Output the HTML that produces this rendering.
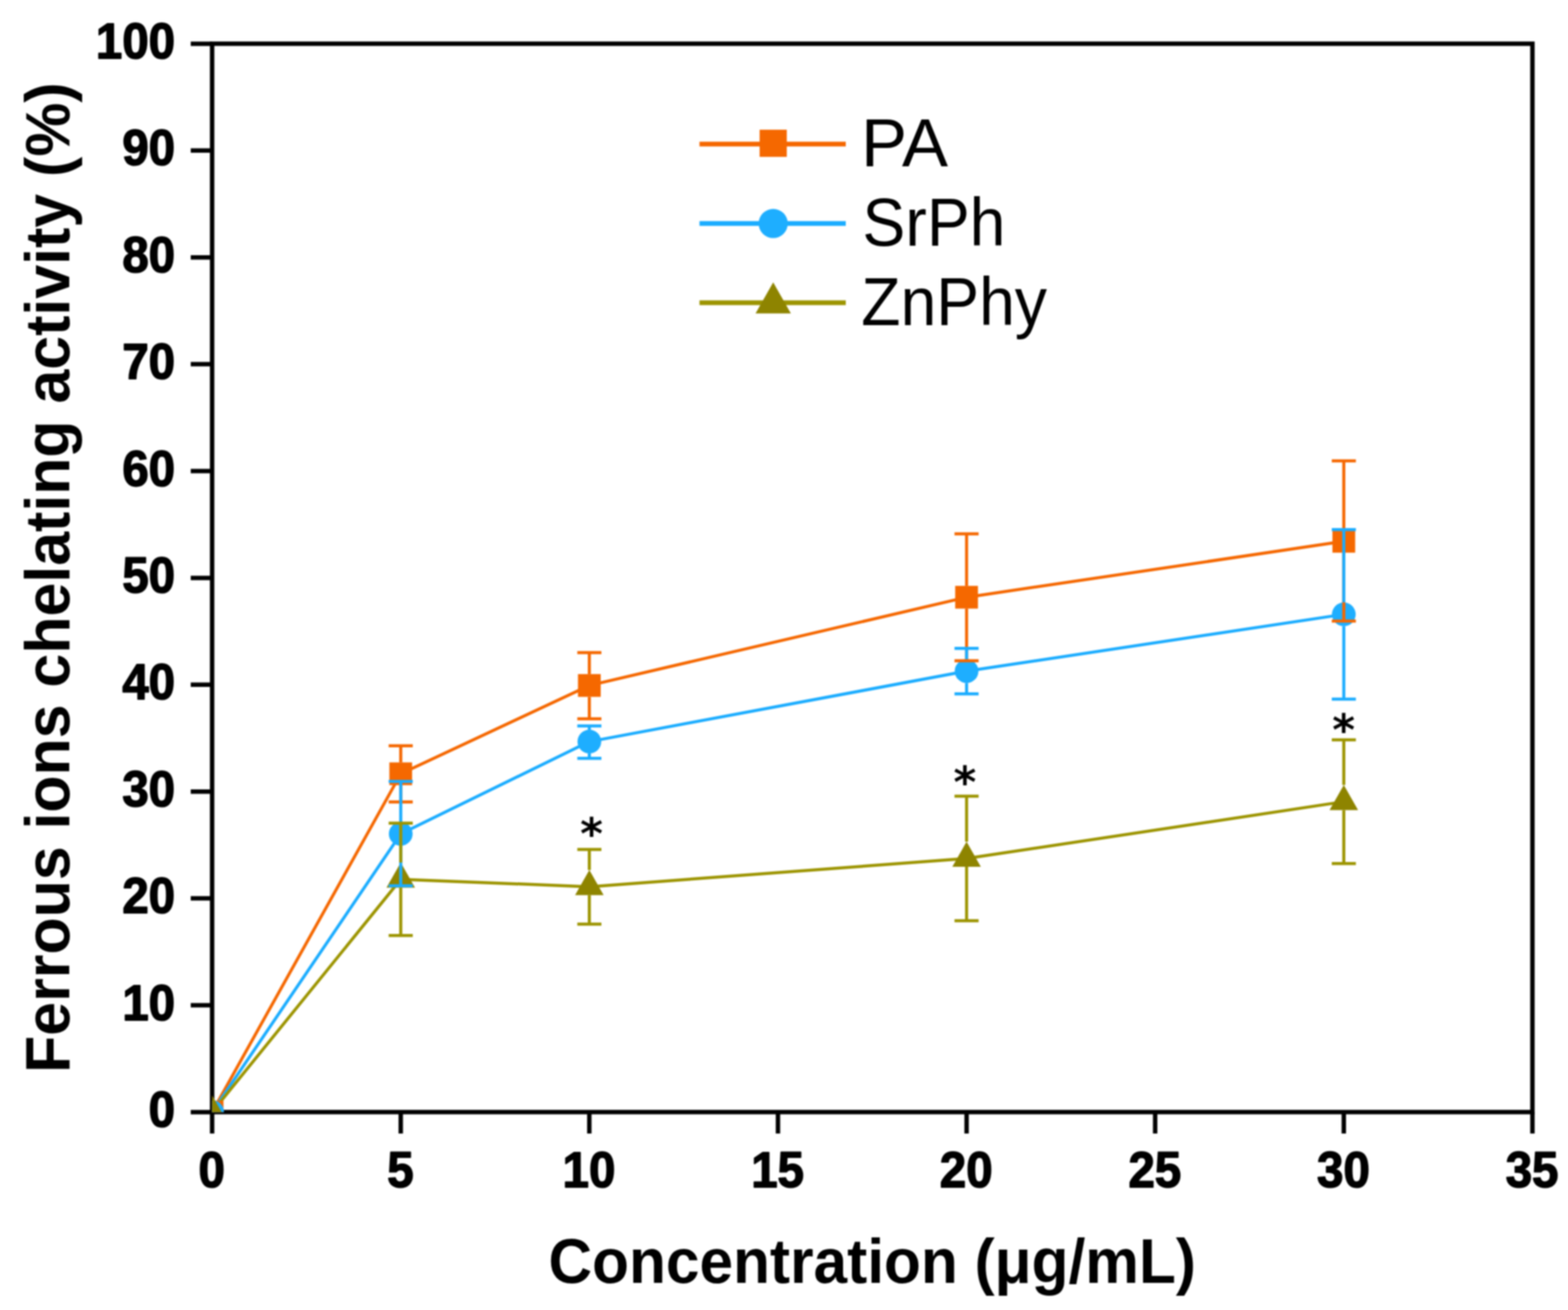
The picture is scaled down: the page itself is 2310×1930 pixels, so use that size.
<!DOCTYPE html><html><head><meta charset="utf-8"><title>Ferrous ions chelating activity</title>
<style>html,body{margin:0;padding:0;background:#fff;width:2310px;height:1930px;overflow:hidden}svg{display:block;filter:blur(0.9px)}text{font-family:"Liberation Sans",Arial,Helvetica,sans-serif}</style></head><body>
<svg width="2310" height="1930" viewBox="0 0 2310 1930">
<rect x="0" y="0" width="2310" height="1930" fill="#fff"/>
<defs><clipPath id="pa"><rect x="312.5" y="64.4" width="1945.1" height="1574.0"/></clipPath></defs>
<g stroke="#000" stroke-width="6.5" fill="none" stroke-linecap="butt">
<rect x="312.5" y="64.4" width="1945.1" height="1574.0" stroke-linejoin="miter"/>
<path d="M281.0 1638.4H312.5M281.0 1481.0H312.5M281.0 1323.6H312.5M281.0 1166.2H312.5M281.0 1008.8H312.5M281.0 851.4H312.5M281.0 694.0H312.5M281.0 536.6H312.5M281.0 379.2H312.5M281.0 221.8H312.5M281.0 64.4H312.5M312.5 1638.4V1669.9M590.4 1638.4V1669.9M868.2 1638.4V1669.9M1146.1 1638.4V1669.9M1424.0 1638.4V1669.9M1701.8 1638.4V1669.9M1979.7 1638.4V1669.9M2257.6 1638.4V1669.9"/>
</g>
<g clip-path="url(#pa)">
<polyline points="312.5,1638.4 590.4,1140.0 868.2,1009.9 1424.0,879.9 1979.7,797.5" fill="none" stroke="#F56700" stroke-width="4.5" stroke-linejoin="round"/>
<polyline points="312.5,1638.4 590.4,1228.5 868.2,1092.6 1424.0,988.8 1979.7,905.1" fill="none" stroke="#1AACFF" stroke-width="4.5" stroke-linejoin="round"/>
<polyline points="312.5,1638.4 590.4,1295.5 868.2,1306.4 1424.0,1264.8 1979.7,1181.1" fill="none" stroke="#9C9400" stroke-width="4.5" stroke-linejoin="round"/>
<rect x="295.75" y="1621.65" width="33.5" height="33.5" fill="#F56800"/>
<circle cx="312.50" cy="1638.40" r="17.5" fill="#1EAEFF"/>
<polygon points="312.50,1613.73 333.50,1650.73 291.50,1650.73" fill="#8E8400"/>
<rect x="573.62" y="1123.25" width="33.5" height="33.5" fill="#F56800"/>
<rect x="851.49" y="993.15" width="33.5" height="33.5" fill="#F56800"/>
<rect x="1407.23" y="863.15" width="33.5" height="33.5" fill="#F56800"/>
<rect x="1962.97" y="780.75" width="33.5" height="33.5" fill="#F56800"/>
<circle cx="590.37" cy="1228.50" r="17.5" fill="#1EAEFF"/>
<circle cx="868.24" cy="1092.60" r="17.5" fill="#1EAEFF"/>
<circle cx="1423.98" cy="988.75" r="17.5" fill="#1EAEFF"/>
<circle cx="1979.72" cy="905.10" r="17.5" fill="#1EAEFF"/>
<polygon points="590.37,1270.83 611.37,1307.83 569.37,1307.83" fill="#8E8400"/>
<polygon points="868.24,1281.73 889.24,1318.73 847.24,1318.73" fill="#8E8400"/>
<polygon points="1423.98,1240.08 1444.98,1277.08 1402.98,1277.08" fill="#8E8400"/>
<polygon points="1979.72,1156.43 2000.72,1193.43 1958.72,1193.43" fill="#8E8400"/>
<g stroke="#F56700" stroke-width="4.5" fill="none">
<path d="M590.4 1098.7V1123.2M590.4 1156.8V1181.5M572.6 1098.7H608.1M572.6 1181.5H608.1"/>
<path d="M868.2 961.4V993.1M868.2 1026.7V1058.9M850.5 961.4H886.0M850.5 1058.9H886.0"/>
<path d="M1424.0 786.5V863.1M1424.0 896.6V973.5M1406.2 786.5H1441.7M1406.2 973.5H1441.7"/>
<path d="M1979.7 679.0V780.8M1979.7 814.2V915.0M1962.0 679.0H1997.5M1962.0 915.0H1997.5"/>
</g>
<g stroke="#1AACFF" stroke-width="4.5" fill="none">
<path d="M590.4 1151.3V1211.0M590.4 1246.0V1305.0M572.6 1151.3H608.1M572.6 1305.0H608.1"/>
<path d="M868.2 1069.5V1075.1M868.2 1110.1V1117.3M850.5 1069.5H886.0M850.5 1117.3H886.0"/>
<path d="M1424.0 955.2V971.2M1424.0 1006.2V1022.3M1406.2 955.2H1441.7M1406.2 1022.3H1441.7"/>
<path d="M1979.7 780.3V887.6M1979.7 922.6V1029.9M1962.0 780.3H1997.5M1962.0 1029.9H1997.5"/>
</g>
<g stroke="#9C9400" stroke-width="4.5" fill="none">
<path d="M590.4 1212.8V1270.8M590.4 1307.8V1378.2M572.6 1212.8H608.1M572.6 1378.2H608.1"/>
<path d="M868.2 1251.4V1281.7M868.2 1318.7V1361.4M850.5 1251.4H886.0M850.5 1361.4H886.0"/>
<path d="M1424.0 1173.0V1240.1M1424.0 1277.1V1356.5M1406.2 1173.0H1441.7M1406.2 1356.5H1441.7"/>
<path d="M1979.7 1090.0V1156.4M1979.7 1193.4V1272.2M1962.0 1090.0H1997.5M1962.0 1272.2H1997.5"/>
</g>
</g>
<g font-weight="bold" font-size="74" fill="#000" stroke="#000" stroke-width="2" stroke-linejoin="round">
<text transform="translate(258 1660.0) scale(0.945 1)" text-anchor="end">0</text>
<text transform="translate(258 1502.6) scale(0.945 1)" text-anchor="end">10</text>
<text transform="translate(258 1345.2) scale(0.945 1)" text-anchor="end">20</text>
<text transform="translate(258 1187.8) scale(0.945 1)" text-anchor="end">30</text>
<text transform="translate(258 1030.4) scale(0.945 1)" text-anchor="end">40</text>
<text transform="translate(258 873.0) scale(0.945 1)" text-anchor="end">50</text>
<text transform="translate(258 715.6) scale(0.945 1)" text-anchor="end">60</text>
<text transform="translate(258 558.2) scale(0.945 1)" text-anchor="end">70</text>
<text transform="translate(258 400.8) scale(0.945 1)" text-anchor="end">80</text>
<text transform="translate(258 243.4) scale(0.945 1)" text-anchor="end">90</text>
<text transform="translate(258 86.0) scale(0.945 1)" text-anchor="end">100</text>
<text transform="translate(312.0 1749.3) scale(0.945 1)" text-anchor="middle">0</text>
<text transform="translate(589.9 1749.3) scale(0.945 1)" text-anchor="middle">5</text>
<text transform="translate(867.7 1749.3) scale(0.945 1)" text-anchor="middle">10</text>
<text transform="translate(1145.6 1749.3) scale(0.945 1)" text-anchor="middle">15</text>
<text transform="translate(1423.5 1749.3) scale(0.945 1)" text-anchor="middle">20</text>
<text transform="translate(1701.3 1749.3) scale(0.945 1)" text-anchor="middle">25</text>
<text transform="translate(1979.2 1749.3) scale(0.945 1)" text-anchor="middle">30</text>
<text transform="translate(2257.1 1749.3) scale(0.945 1)" text-anchor="middle">35</text>
</g>
<text font-weight="bold" font-size="93" text-anchor="middle" transform="translate(101.7 851) rotate(-90) scale(0.964 1)">Ferrous ions chelating activity (%)</text>
<text font-weight="bold" font-size="93" text-anchor="middle" transform="translate(1285 1889.5) scale(0.9566 1)">Concentration (μg/mL)</text>
<text font-weight="bold" font-size="64" text-anchor="middle" x="871.5" y="1250.9" style="font-family:'DejaVu Sans',sans-serif">*</text>
<text font-weight="bold" font-size="64" text-anchor="middle" x="1421.5" y="1174.7" style="font-family:'DejaVu Sans',sans-serif">*</text>
<text font-weight="bold" font-size="64" text-anchor="middle" x="1979.5" y="1098.2" style="font-family:'DejaVu Sans',sans-serif">*</text>
<line x1="1030.5" y1="212.3" x2="1246" y2="212.3" stroke="#F56700" stroke-width="7"/>
<rect x="1119.10" y="191.10" width="40" height="40" fill="#F56800"/>
<text font-size="100" transform="translate(1268.5 245.3) scale(1.018 1)">PA</text>
<line x1="1030.5" y1="329.3" x2="1246" y2="329.3" stroke="#1AACFF" stroke-width="7"/>
<circle cx="1139.10" cy="329.30" r="21.5" fill="#1EAEFF"/>
<text font-size="100" transform="translate(1270.6 362.3) scale(0.948 1)">SrPh</text>
<line x1="1030.5" y1="446.0" x2="1246" y2="446.0" stroke="#9C9400" stroke-width="7"/>
<polygon points="1139.10,416.07 1165.10,461.87 1113.10,461.87" fill="#8E8400"/>
<text font-size="100" transform="translate(1268.8 479.3) scale(0.947 1)">ZnPhy</text>
</svg></body></html>
